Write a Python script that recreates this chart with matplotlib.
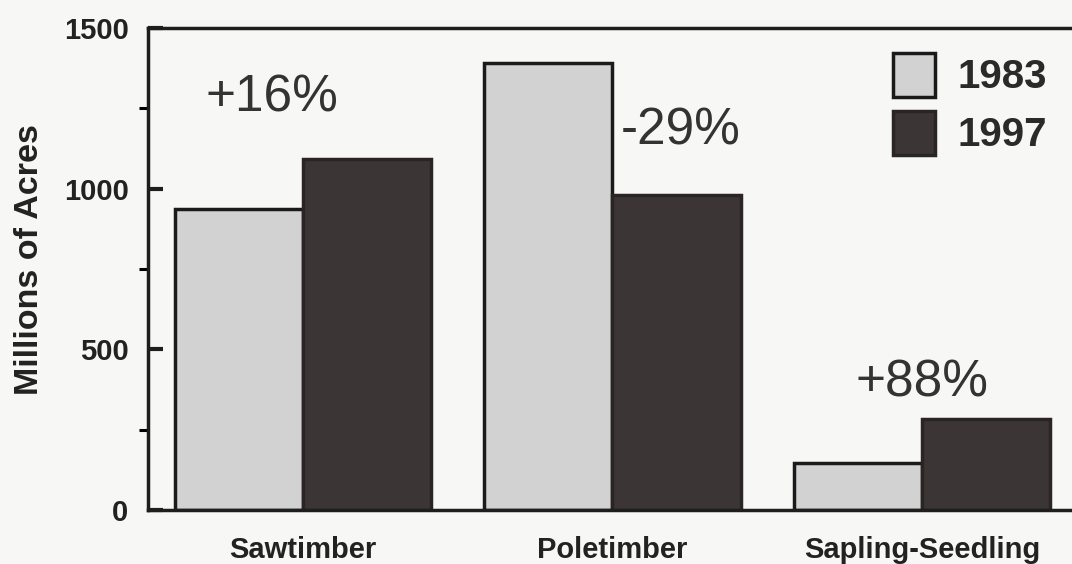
import matplotlib
matplotlib.use("Agg")
import matplotlib.pyplot as plt
import numpy as np

plt.rcParams["font.family"] = ["Liberation Sans", "DejaVu Sans"]

# Data
categories = ["Sawtimber", "Poletimber", "Sapling-Seedling"]
acres_1983 = [937, 1392, 146]
acres_1997 = [1092, 980, 283]
change_labels = ["+16%", "-29%", "+88%"]
# where each change label sits (x in category units, y = baseline in acres)
change_x = [-0.10, 1.22, 2.00]
change_y = [1239, 1136, 352]

bg = "#f7f7f5"
light = "#d2d2d2"
dark = "#3c3535"

fig = plt.figure(figsize=(10.72, 5.64), dpi=100, facecolor=bg)
ax = fig.add_axes([148 / 1072, 54 / 564, 929 / 1072, 482 / 564])
ax.set_facecolor(bg)

x = np.arange(len(categories))
w = 0.414
b1 = ax.bar(x - w / 2, acres_1983, w, color=light, edgecolor="#1a1a1a", linewidth=2.5, label="1983")
b2 = ax.bar(x + w / 2, acres_1997, w, color=dark, edgecolor="#2a2424", linewidth=2.5, label="1997")

for lab, tx, ty in zip(change_labels, change_x, change_y):
    ax.text(tx, ty, lab, ha="center", va="baseline", fontsize=37, color="#333333")

ax.set_xlim(-0.5, 2.5)
ax.set_ylim(0, 1500)

# major ticks point inward, minor ticks point outward
ax.set_yticks([0, 500, 1000, 1500])
ax.set_yticks([250, 750, 1250], minor=True)
ax.tick_params(axis="y", which="major", direction="in", length=11, width=3, pad=14,
               labelsize=21, color="#1e1e1e")
ax.tick_params(axis="y", which="minor", direction="out", length=6.5, width=2.2)
for t in ax.get_yticklabels():
    t.set_fontweight("bold")
    t.set_color("#222222")

ax.set_xticks(x)
ax.set_xticklabels(categories, fontsize=21, fontweight="bold", color="#222222")
ax.tick_params(axis="x", length=0, pad=19)

for s in ["left", "top", "bottom", "right"]:
    ax.spines[s].set_linewidth(2.5)
    ax.spines[s].set_color("#1e1e1e")

ax.set_ylabel("Millions of Acres", fontsize=24.5, fontweight="bold", color="#222222")
ax.yaxis.set_label_coords(-0.111, 0.52)

leg = ax.legend(loc="upper left", bbox_to_anchor=(893 / 1072, 1 - 53 / 564),
                bbox_transform=fig.transFigure, frameon=False, borderpad=0,
                borderaxespad=0, handlelength=1.05, handleheight=1.3,
                handletextpad=0.55, labelspacing=0.35,
                prop={"size": 29, "weight": "bold"})
for t in leg.get_texts():
    t.set_color("#2a2a2a")

fig.savefig("out.png", dpi=100, facecolor=bg)
